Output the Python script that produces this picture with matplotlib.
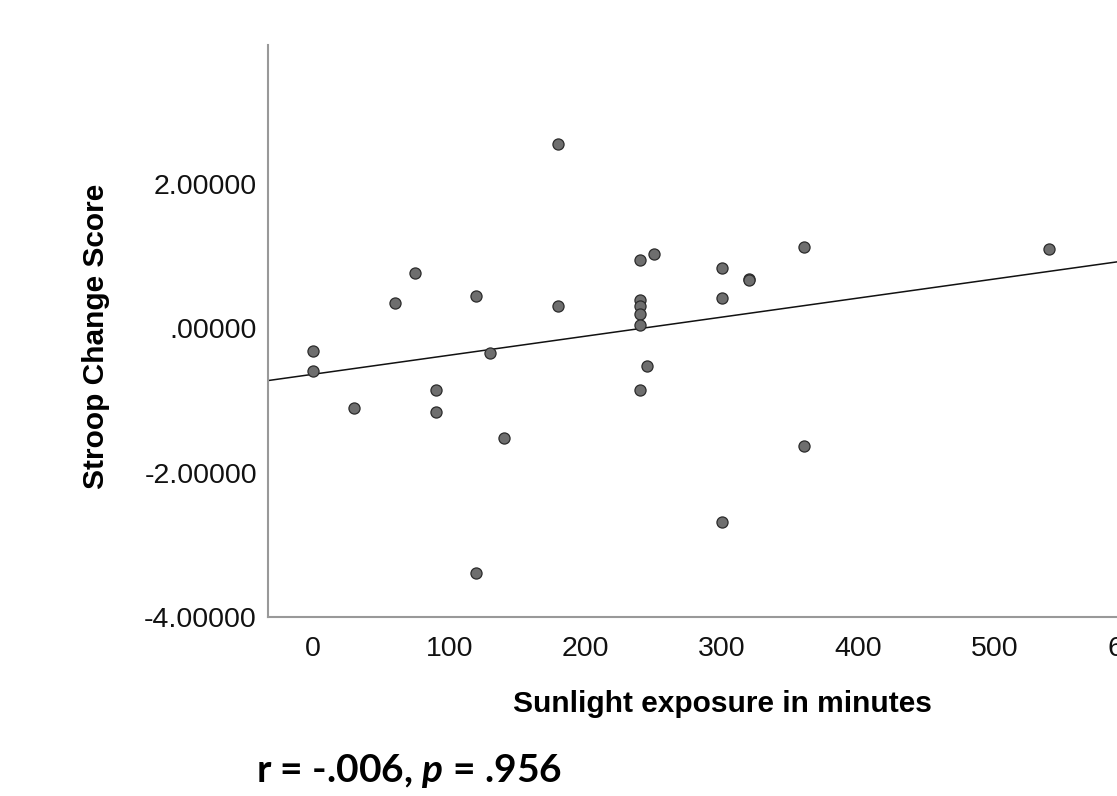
import numpy as np
import matplotlib
matplotlib.use("Agg")
import matplotlib.pyplot as plt
from matplotlib.ticker import FuncFormatter

# ---- data ----
sunlight_minutes = [180, 240, 250, 75, 60, 120, 180, 240, 240, 240, 240,
                    0, 0, 130, 245, 90, 240, 30, 90, 140, 120,
                    360, 540, 300, 320, 320, 300, 360, 300]
stroop_change = [2.55, 0.95, 1.02, 0.77, 0.35, 0.44, 0.31, 0.39, 0.30, 0.20, 0.04,
                 -0.32, -0.60, -0.34, -0.53, -0.85, -0.85, -1.10, -1.16, -1.52, -3.39,
                 1.12, 1.10, 0.83, 0.68, 0.66, 0.42, -1.63, -2.68]
x_ticks = [0, 100, 200, 300, 400, 500, 600]
y_ticks = [-4, -2, 0, 2]
x_label = "Sunlight exposure in minutes"
y_label = "Stroop Change Score"
stat_text = r"r = -.006, $\mathit{p}$ = .956"

plt.rcParams['mathtext.fontset'] = 'custom'
plt.rcParams['mathtext.it'] = 'Lato:italic:bold'
plt.rcParams['mathtext.rm'] = 'Lato:bold'

W, H = 1117, 796
fig = plt.figure(figsize=(W / 100, H / 100), dpi=100)
ax = fig.add_axes([268 / W, (H - 617) / H, 931.5 / W, 572 / H])

x = np.array(sunlight_minutes, dtype=float)
y = np.array(stroop_change, dtype=float)

xlim = (-32.8, 650)
ylim = (-4, 3.92)
ax.set_xlim(*xlim)
ax.set_ylim(*ylim)

# regression line
slope, intercept = np.polyfit(x, y, 1)
xl = np.array(xlim)
ax.plot(xl, intercept + slope * xl, color='#111111', lw=1.1, zorder=2)

ax.scatter(x, y, s=64, facecolor='#6e6e6e', edgecolor='#2b2b2b',
           linewidths=0.9, zorder=3)

ax.set_xticks(x_ticks)
ax.set_yticks(y_ticks)

def yfmt(v, pos):
    s = "%.5f" % v
    if s.startswith("0."):
        s = s[1:]
    elif s.startswith("-0."):
        s = "-" + s[2:]
    return s

ax.yaxis.set_major_formatter(FuncFormatter(yfmt))
ax.tick_params(axis='both', length=0, labelsize=20.5, colors='#111111')
ax.tick_params(axis='y', pad=8)
ax.tick_params(axis='x', pad=14)
for lab in ax.get_xticklabels() + ax.get_yticklabels():
    lab.set_fontfamily('Liberation Sans')

for side in ['top', 'right']:
    ax.spines[side].set_visible(False)
for side in ['left', 'bottom']:
    ax.spines[side].set_color('#999999')
    ax.spines[side].set_linewidth(1.5)

ax.set_xlabel(x_label, fontsize=21.5, fontweight='bold', family='Liberation Sans')
ax.xaxis.set_label_coords((722.5 - 268) / 931.5, (617 - 690) / 572)
ax.set_ylabel(y_label, fontsize=21.5, fontweight='bold', family='Liberation Sans')
ax.yaxis.set_label_coords((110 - 268) / 931.5, (617 - 336) / 572)

fig.text(408.5 / W, (H - 771.5) / H, stat_text, fontsize=28, fontweight='bold',
         family='Lato', ha='center', va='center', color='black')

fig.savefig('out.png', dpi=100)
